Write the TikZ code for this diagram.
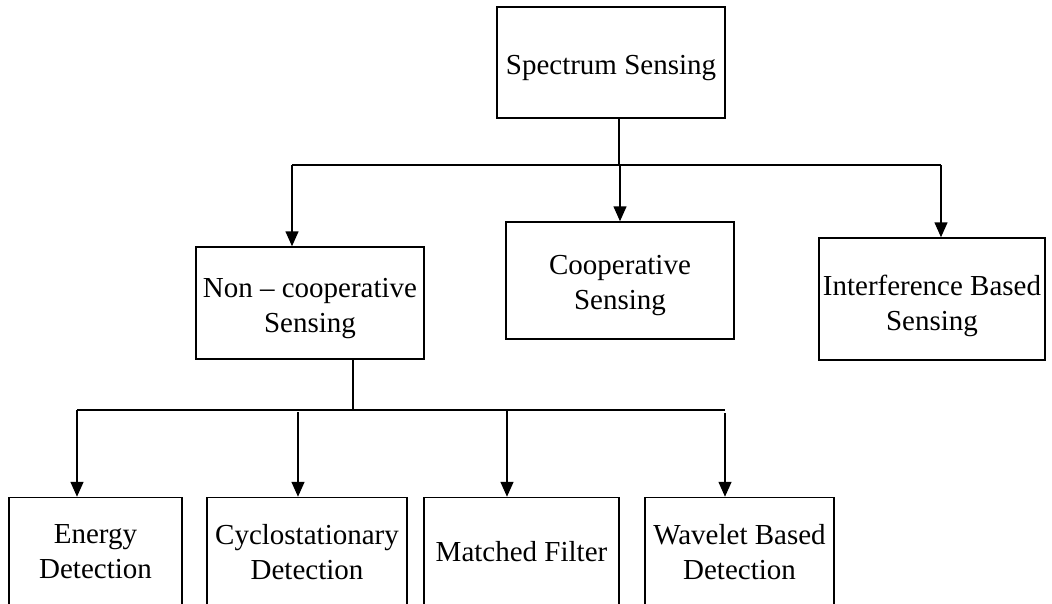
\documentclass[tikz,border=0pt]{standalone}
\usepackage{fontspec}
\setmainfont{Liberation Serif}
\usetikzlibrary{arrows.meta}
\begin{document}
\begin{tikzpicture}[x=1pt,y=-1pt,
  box/.style={draw,line width=1.5pt,inner sep=0pt,align=center,
    font=\fontsize{29}{35}\selectfont},
  txt/.style={inner sep=0pt,align=center,font=\fontsize{29}{35}\selectfont,yshift=-6pt},
  ln/.style={line width=1.5pt},
  arr/.style={line width=1.5pt,-{Triangle[length=15pt,width=13pt]}}]
\useasboundingbox (0,0) rectangle (1052,603);
\clip (0,0) rectangle (1052,603);
\node[box,minimum width=228pt,minimum height=111pt,
  label={[txt]center:Spectrum Sensing}] (top) at (611,62.5) {};
\node[box,minimum width=228pt,minimum height=112pt,
  label={[txt]center:Non -- cooperative\\Sensing}] (nc) at (310,303) {};
\node[box,minimum width=228pt,minimum height=117pt,
  label={[txt,yshift=1pt]center:Cooperative\\Sensing}] (co) at (620,280.5) {};
\node[box,minimum width=226pt,minimum height=122pt,
  label={[txt,yshift=-1pt]center:Interference Based\\Sensing}] (ib) at (932,299) {};
\node[box,minimum width=173pt,minimum height=109pt] (ed) at (95.5,552) {Energy\\Detection};
\node[box,minimum width=200pt,minimum height=109pt] (cd) at (307,552) {Cyclostationary\\Detection};
\node[box,minimum width=195pt,minimum height=109pt] (mf) at (521.5,552) {Matched Filter};
\node[box,minimum width=189pt,minimum height=109pt] (wd) at (739.5,552) {Wavelet Based\\Detection};
% level 1
\coordinate (j1) at (619,165);
\coordinate (l1) at (292,165);
\coordinate (m1) at (620,165);
\coordinate (r1) at (941,165);
\draw[ln] (top.south -| j1) -- (j1);
\draw[ln] (l1) -- (r1);
\draw[arr] (l1) -- (l1 |- nc.north);
\draw[arr] (m1) -- (m1 |- co.north);
\draw[arr] (r1) -- (r1 |- ib.north);
% level 2
\coordinate (j2) at (353,410);
\coordinate (a2) at (77,410);
\coordinate (b2) at (298,412);
\coordinate (c2) at (507,410);
\coordinate (d2) at (725,410);
\coordinate (d2s) at (725,413);
\draw[ln] (nc.south -| j2) -- (j2);
\draw[ln] (a2) -- (d2);
\draw[arr] (a2) -- (a2 |- ed.north);
\draw[arr] (b2) -- (b2 |- cd.north);
\draw[arr] (c2) -- (c2 |- mf.north);
\draw[arr] (d2s) -- (d2s |- wd.north);
\end{tikzpicture}
\end{document}
